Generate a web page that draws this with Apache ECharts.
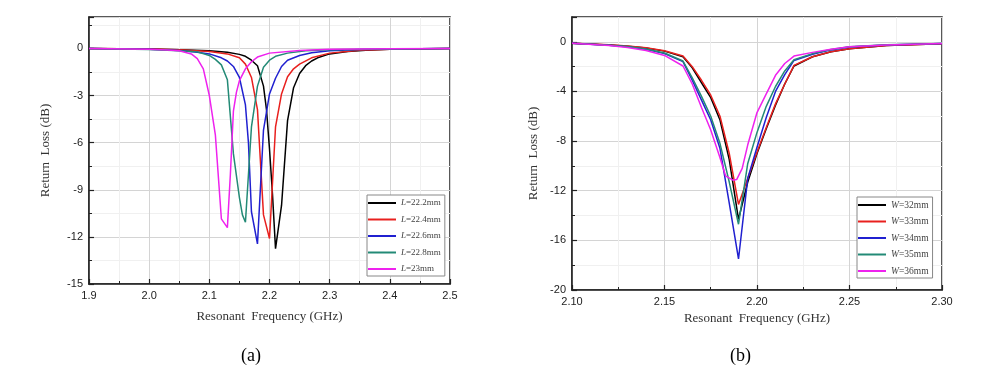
<!DOCTYPE html>
<html>
<head>
<meta charset="utf-8">
<script src="https://cdn.jsdelivr.net/npm/echarts@6/dist/echarts.min.js"></script>
<style>
html,body{margin:0;padding:0;background:#fff;}
#chart{width:981px;height:382px;}
</style>
</head>
<body>
<div id="chart"></div>
<script>
// ---------- Panel (a): Return loss vs frequency for patch length L ----------
const namesA = ['L=22.2mm', 'L=22.4mm', 'L=22.6mm', 'L=22.8mm', 'L=23mm'];
const a_L222 = [[1.9,0],[2.0,-0.03],[2.05,-0.08],[2.1,-0.15],[2.13,-0.25],[2.15,-0.38],[2.16,-0.5],[2.17,-0.75],[2.18,-1.1],[2.19,-2.4],[2.195,-3.9],[2.2,-6.4],[2.205,-9.3],[2.21,-12.75],[2.22,-10.0],[2.23,-4.6],[2.24,-2.5],[2.25,-1.6],[2.26,-1.1],[2.27,-0.8],[2.28,-0.6],[2.3,-0.35],[2.33,-0.2],[2.36,-0.12],[2.4,-0.06],[2.45,-0.02],[2.5,0]];
const a_L224 = [[1.9,0],[2.0,-0.04],[2.05,-0.09],[2.1,-0.2],[2.13,-0.35],[2.15,-0.6],[2.16,-1.0],[2.17,-1.85],[2.18,-3.9],[2.19,-10.6],[2.2,-12.1],[2.21,-5.0],[2.22,-2.9],[2.23,-1.8],[2.24,-1.3],[2.25,-1.0],[2.27,-0.6],[2.3,-0.3],[2.35,-0.12],[2.4,-0.05],[2.5,0]];
const a_L226 = [[1.9,0],[2.0,-0.06],[2.05,-0.13],[2.08,-0.25],[2.1,-0.35],[2.12,-0.6],[2.13,-0.8],[2.14,-1.15],[2.15,-1.85],[2.16,-3.6],[2.165,-6.0],[2.17,-10.4],[2.18,-12.45],[2.19,-5.2],[2.2,-2.9],[2.21,-1.9],[2.22,-1.15],[2.23,-0.75],[2.25,-0.45],[2.27,-0.28],[2.3,-0.15],[2.35,-0.07],[2.4,-0.03],[2.5,0]];
const a_L228 = [[1.9,0],[2.0,-0.07],[2.05,-0.15],[2.08,-0.22],[2.1,-0.45],[2.11,-0.7],[2.12,-1.05],[2.13,-2.0],[2.14,-6.7],[2.15,-9.5],[2.155,-10.6],[2.16,-11.07],[2.17,-5.0],[2.18,-2.4],[2.19,-1.2],[2.2,-0.75],[2.21,-0.5],[2.23,-0.3],[2.26,-0.15],[2.3,-0.08],[2.4,-0.03],[2.5,0]];
const a_L230 = [[1.9,0],[2.0,-0.05],[2.03,-0.1],[2.05,-0.15],[2.07,-0.35],[2.08,-0.65],[2.09,-1.3],[2.1,-3.0],[2.11,-5.5],[2.12,-10.85],[2.13,-11.41],[2.135,-8.0],[2.14,-4.0],[2.145,-2.8],[2.15,-2.05],[2.16,-1.3],[2.17,-0.85],[2.18,-0.55],[2.2,-0.3],[2.25,-0.13],[2.3,-0.06],[2.4,-0.02],[2.5,0]];

// ---------- Panel (b): Return loss vs frequency for patch width W ----------
const namesB = ['W=32mm', 'W=33mm', 'W=34mm', 'W=35mm', 'W=36mm'];
const b_W32 = [[2.10,-0.12],[2.12,-0.25],[2.13,-0.35],[2.14,-0.5],[2.15,-0.75],[2.16,-1.2],[2.165,-2.1],[2.17,-3.3],[2.175,-4.5],[2.18,-6.3],[2.185,-9.5],[2.19,-14.3],[2.195,-11.3],[2.20,-9.0],[2.205,-7.0],[2.21,-5.1],[2.215,-3.4],[2.22,-1.95],[2.23,-1.2],[2.24,-0.8],[2.25,-0.55],[2.27,-0.3],[2.30,-0.15]];
const b_W33 = [[2.10,-0.12],[2.12,-0.24],[2.13,-0.34],[2.14,-0.48],[2.15,-0.72],[2.16,-1.15],[2.165,-2.0],[2.17,-3.1],[2.175,-4.3],[2.18,-6.0],[2.185,-9.0],[2.19,-13.1],[2.195,-11.0],[2.20,-8.9],[2.205,-6.9],[2.21,-5.0],[2.215,-3.4],[2.22,-1.9],[2.23,-1.2],[2.24,-0.8],[2.25,-0.55],[2.27,-0.3],[2.30,-0.15]];
const b_W34 = [[2.10,-0.12],[2.12,-0.28],[2.13,-0.4],[2.14,-0.6],[2.15,-0.95],[2.16,-1.6],[2.165,-3.1],[2.17,-4.7],[2.175,-6.3],[2.18,-8.6],[2.185,-13.0],[2.19,-17.5],[2.195,-11.0],[2.20,-8.5],[2.205,-6.1],[2.21,-4.0],[2.215,-2.65],[2.22,-1.5],[2.23,-1.0],[2.24,-0.65],[2.25,-0.42],[2.27,-0.25],[2.30,-0.14]];
const b_W35 = [[2.10,-0.12],[2.12,-0.27],[2.13,-0.38],[2.14,-0.58],[2.15,-0.9],[2.16,-1.55],[2.165,-2.9],[2.17,-4.4],[2.175,-6.0],[2.18,-8.2],[2.185,-11.3],[2.19,-14.7],[2.195,-9.8],[2.20,-7.3],[2.205,-5.2],[2.21,-3.6],[2.215,-2.35],[2.22,-1.45],[2.23,-0.95],[2.24,-0.62],[2.25,-0.4],[2.27,-0.24],[2.30,-0.14]];
const b_W36 = [[2.10,-0.12],[2.12,-0.3],[2.13,-0.45],[2.14,-0.7],[2.15,-1.1],[2.16,-1.95],[2.165,-3.4],[2.17,-5.3],[2.175,-7.1],[2.18,-9.35],[2.183,-10.8],[2.187,-11.15],[2.189,-11.1],[2.192,-10.2],[2.195,-8.3],[2.20,-5.7],[2.205,-4.2],[2.21,-2.7],[2.215,-1.75],[2.22,-1.15],[2.23,-0.85],[2.24,-0.6],[2.25,-0.4],[2.27,-0.25],[2.30,-0.14]];

const colors = ['#000000', '#e8201e', '#2020d0', '#238a76', '#ee22ee'];
const seriesA = [a_L222, a_L224, a_L226, a_L228, a_L230];
const seriesB = [b_W32, b_W33, b_W34, b_W35, b_W36];

const serifFont = '"Liberation Serif", "Times New Roman", serif';
const sansFont = '"Liberation Sans", Arial, sans-serif';

function makeX(gridIndex, min, max, interval, decimals, nameGap) {
  return {
    type: 'value', gridIndex: gridIndex, min: min, max: max, interval: interval,
    name: 'Resonant  Frequency (GHz)', nameLocation: 'middle', nameGap: nameGap,
    nameTextStyle: {fontFamily: serifFont, fontSize: 13, color: '#333'},
    axisLine: {show: true, onZero: false, lineStyle: {color: '#222', width: 1.5}},
    axisTick: {show: true, inside: true, length: 5, lineStyle: {color: '#222', width: 1.2}},
    minorTick: {show: true, splitNumber: 2, length: 3, lineStyle: {color: '#222', width: 1}},
    axisLabel: {fontFamily: sansFont, fontSize: 11, color: '#222', margin: 6,
      formatter: function (v) { return v.toFixed(decimals); }},
    splitLine: {show: true, lineStyle: {color: '#d4d4d4', width: 1}},
    minorSplitLine: {show: true, lineStyle: {color: '#f0f0f0', width: 1}}
  };
}
function makeY(gridIndex, min, max, interval, nameGap) {
  return {
    type: 'value', gridIndex: gridIndex, min: min, max: max, interval: interval,
    name: 'Return  Loss (dB)', nameLocation: 'middle', nameGap: nameGap,
    nameTextStyle: {fontFamily: serifFont, fontSize: 13, color: '#333'},
    axisLine: {show: true, onZero: false, lineStyle: {color: '#222', width: 1.5}},
    axisTick: {show: true, inside: true, length: 5, lineStyle: {color: '#222', width: 1.2}},
    minorTick: {show: true, splitNumber: 2, length: 3, lineStyle: {color: '#222', width: 1}},
    axisLabel: {fontFamily: sansFont, fontSize: 11, color: '#222', margin: 6, showMaxLabel: false},
    splitLine: {show: true, lineStyle: {color: '#d4d4d4', width: 1}},
    minorSplitLine: {show: true, lineStyle: {color: '#f0f0f0', width: 1}}
  };
}

function legendFor(names, left, top, letter, fontSize) {
  return {
    data: names, orient: 'vertical', left: left, top: top,
    icon: 'rect', itemWidth: 28, itemHeight: 2, itemGap: 4.5,
    padding: [2, 4, 1, 1],
    backgroundColor: '#fff', borderColor: '#888', borderWidth: 1, borderRadius: 0,
    selectedMode: false,
    formatter: function (name) { return '{i|' + letter + '}{n|' + name.slice(1) + '}'; },
    textStyle: {
      fontFamily: serifFont, fontSize: fontSize, color: '#444', lineHeight: 12,
      overflow: 'none',
      rich: {
        i: {fontFamily: serifFont, fontStyle: 'italic', fontSize: fontSize, color: '#444', lineHeight: 12},
        n: {fontFamily: serifFont, fontSize: fontSize, color: '#444', lineHeight: 12}
      }
    }
  };
}

const series = [];
seriesA.forEach(function (d, i) {
  series.push({type: 'line', name: namesA[i], xAxisIndex: 0, yAxisIndex: 0, data: d,
    showSymbol: false, symbol: 'none', smooth: false, color: colors[i],
    lineStyle: {color: colors[i], width: 1.5}, z: 2 + i});
});
seriesB.forEach(function (d, i) {
  series.push({type: 'line', name: namesB[i], xAxisIndex: 1, yAxisIndex: 1, data: d,
    showSymbol: false, symbol: 'none', smooth: false, color: colors[i],
    lineStyle: {color: colors[i], width: 1.5}, z: 2 + i});
});

const chart = echarts.init(document.getElementById('chart'), null, {renderer: 'canvas'});
chart.setOption({
  backgroundColor: '#ffffff',
  animation: false,
  grid: [
    {left: 89, top: 17, width: 361, height: 267, show: true, borderColor: '#222', borderWidth: 1.5, backgroundColor: 'transparent'},
    {left: 572, top: 17, width: 370, height: 273, show: true, borderColor: '#222', borderWidth: 1.5, backgroundColor: 'transparent'}
  ],
  xAxis: [makeX(0, 1.9, 2.5, 0.1, 1, 26), makeX(1, 2.10, 2.30, 0.05, 2, 21)],
  yAxis: [makeY(0, -15, 2, 3, 37), makeY(1, -20, 2, 4, 32)],
  legend: [legendFor(namesA, 367, 195, 'L', 9), legendFor(namesB, 857, 197, 'W', 9.5)],
  graphic: [
    {type: 'text', left: 241, top: 347, style: {text: '(a)', font: '18px "Liberation Serif", serif', fill: '#000'}},
    {type: 'text', left: 730, top: 347, style: {text: '(b)', font: '18px "Liberation Serif", serif', fill: '#000'}}
  ],
  series: series
});
</script>
</body>
</html>
